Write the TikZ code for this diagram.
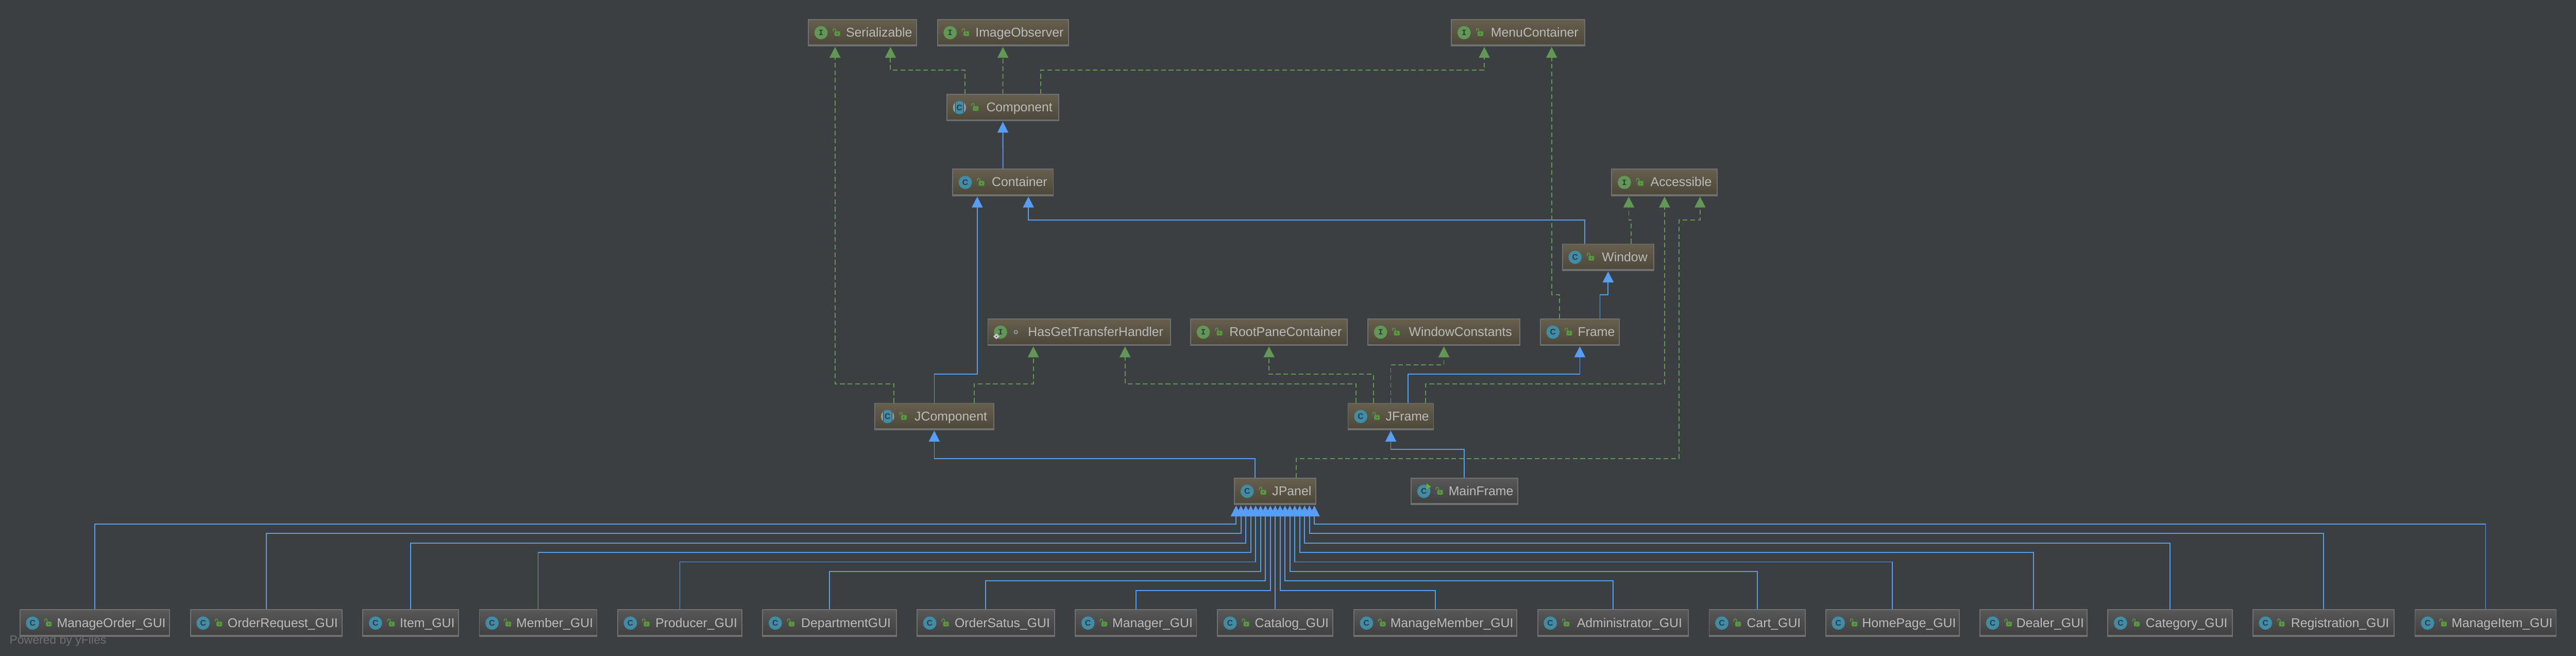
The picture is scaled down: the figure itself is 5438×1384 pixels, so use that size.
\documentclass[tikz,border=0pt]{standalone}
\usepackage{fontspec}
\setmainfont{Liberation Sans}
\setmonofont{Liberation Mono}
\usetikzlibrary{arrows.meta}

\definecolor{bgdark}{HTML}{3C3F41}
\definecolor{boxline}{HTML}{707070}
\definecolor{jdktop}{HTML}{675F4E}
\definecolor{jdkbot}{HTML}{4B4739}
\definecolor{projtop}{HTML}{585858}
\definecolor{projbot}{HTML}{403F3F}
\definecolor{boxtext}{HTML}{BBBBBB}
\definecolor{extendblue}{HTML}{589DF6}
\definecolor{implgreen}{HTML}{629755}
\definecolor{iconblue}{HTML}{418CA6}
\definecolor{iconside}{HTML}{8F9A9F}
\definecolor{iconlock}{HTML}{599741}
\definecolor{iconpale}{HTML}{C4CBCF}
\definecolor{runmark}{HTML}{5DB52F}
\definecolor{glyphdark}{HTML}{2B3B45}

\tikzset{
  classbox/.style={draw=boxline,line width=2pt,minimum height=56pt,inner sep=0pt,
    text=boxtext,text height=20pt,text depth=2.6pt,font=\fontsize{27}{30}\selectfont,
    execute at begin node={\hspace*{70pt}}},
  jdkbox/.style={classbox,top color=jdktop,bottom color=jdkbot},
  projbox/.style={classbox,top color=projtop,bottom color=projbot},
  cglyph/.style={circle,fill=iconblue,minimum size=28pt,inner sep=0pt,text=glyphdark,
    font=\bfseries\fontsize{17}{17}\selectfont},
  iglyph/.style={circle,fill=implgreen,minimum size=28pt,inner sep=0pt,text=glyphdark,
    font=\ttfamily\bfseries\fontsize{17}{17}\selectfont},
  extends/.style={draw=extendblue,line width=2pt,shorten >=1pt,
    -{Triangle[length=23pt,width=23pt]}},
  realizes/.style={draw=implgreen,line width=2pt,dash pattern=on 10pt off 6pt,shorten >=1pt,
    -{Triangle[length=23pt,width=23pt]}},
}

\newcommand\boxbase[1]{\fill[boxline] (#1.south west) rectangle ([yshift=4pt]#1.south east);}
\newcommand\lockat[1]{\begin{scope}[shift={(#1.west)},y=1pt]
    \fill[iconlock,rounded corners=1.5pt] (56,-7) rectangle (68,3);
    \fill[jdkbot] (61,-3) rectangle (63,-1);
    \draw[iconlock,line width=1.7pt] (53.3,3) -- (53.3,6) arc (180:0:2.7) -- (58.7,3);
  \end{scope}}
\newcommand\classicon[1]{\boxbase{#1}\node[cglyph] (#1icon) at ([xshift=27.7pt]#1.west) {C};\lockat{#1}}
\newcommand\ifaceicon[1]{\boxbase{#1}\node[iglyph] (#1icon) at ([xshift=27.7pt]#1.west) {I};\lockat{#1}}
\newcommand\abstracticon[1]{\boxbase{#1}\begin{scope}[shift={([xshift=27.7pt]#1.west)},y=1pt]
    \fill[iconside] (0,0) circle (14);
    \begin{scope}
      \clip (0,0) circle (14);
      \fill[glyphdark] (-9.5,-14) rectangle (9.5,14);
      \fill[iconblue] (-8.5,-14) rectangle (8.5,14);
    \end{scope}
  \end{scope}
  \node[cglyph,fill=none] (#1icon) at ([xshift=27.7pt]#1.west) {C};\lockat{#1}}

\begin{document}
\begin{tikzpicture}[x=1pt,y=-1pt]
  \fill[bgdark] (0,0) rectangle (5438,1384);
  \useasboundingbox (0,0) rectangle (5438,1384);

  \node[jdkbox,minimum width=228.5pt] (serializable) at (1820.75,69) {Serializable}; \ifaceicon{serializable}
  \node[jdkbox,minimum width=276.5pt] (imageobserver) at (2117.25,69) {ImageObserver}; \ifaceicon{imageobserver}
  \node[jdkbox,minimum width=281.4pt] (menucontainer) at (3204.7,69) {MenuContainer}; \ifaceicon{menucontainer}
  \node[jdkbox,minimum width=236.4pt] (component) at (2117,227) {Component}; \abstracticon{component}
  \node[jdkbox,minimum width=212.6pt] (container) at (2117.3,385) {Container}; \classicon{container}
  \node[jdkbox,minimum width=223pt] (accessible) at (3513.85,385) {Accessible}; \ifaceicon{accessible}
  \node[jdkbox,minimum width=193pt] (window) at (3394.8,543) {Window}; \classicon{window}
  \node[jdkbox,minimum width=385.2pt] (hasgethandler) at (2278,701) {HasGetTransferHandler};
  \node[jdkbox,minimum width=331pt] (rootpane) at (2678.85,701) {RootPaneContainer}; \ifaceicon{rootpane}
  \node[jdkbox,minimum width=320.6pt] (windowconst) at (3048,701) {WindowConstants}; \ifaceicon{windowconst}
  \node[jdkbox,minimum width=166.8pt] (frame) at (3335,701) {Frame}; \classicon{frame}
  \node[jdkbox,minimum width=250.5pt] (jcomponent) at (1972.25,879) {JComponent}; \abstracticon{jcomponent}
  \node[jdkbox,minimum width=180.5pt] (jframe) at (2936,879) {JFrame}; \classicon{jframe}
  \node[jdkbox,minimum width=172pt] (jpanel) at (2692,1037) {JPanel}; \classicon{jpanel}
  \node[projbox,minimum width=224.7pt] (mainframe) at (3091.35,1037) {MainFrame}; \classicon{mainframe}

  % marks that only these two have
  \boxbase{hasgethandler}
  \node[iglyph] (hasgeticon) at ([xshift=27.7pt]hasgethandler.west) {I};
  \begin{scope}[shift={(hasgethandler.west)},y=1pt]
    \draw[iconside,line width=2pt] (60,0) circle (3.5);
    \fill[iconpale] (19,-3) -- (25.5,-9) -- (19,-15) -- (12.5,-9) -- cycle;
    \fill[jdkbot] (19,-7.5) -- (20.5,-9) -- (19,-10.5) -- (17.5,-9) -- cycle;
  \end{scope}
  \begin{scope}[shift={(mainframe.west)},y=1pt]
    \fill[runmark] (33,17) -- (43,10) -- (33,3) -- cycle;
  \end{scope}

  \node[projbox,minimum width=316pt] (manageorder) at (200,1315) {ManageOrder\_GUI}; \classicon{manageorder}
  \node[projbox,minimum width=320pt] (orderrequest) at (562,1315) {OrderRequest\_GUI}; \classicon{orderrequest}
  \node[projbox,minimum width=202pt] (item) at (867,1315) {Item\_GUI}; \classicon{item}
  \node[projbox,minimum width=248pt] (member) at (1136,1315) {Member\_GUI}; \classicon{member}
  \node[projbox,minimum width=262pt] (producer) at (1435,1315) {Producer\_GUI}; \classicon{producer}
  \node[projbox,minimum width=282pt] (department) at (1751,1315) {DepartmentGUI}; \classicon{department}
  \node[projbox,minimum width=290pt] (ordersatus) at (2081,1315) {OrderSatus\_GUI}; \classicon{ordersatus}
  \node[projbox,minimum width=256pt] (manager) at (2398,1315) {Manager\_GUI}; \classicon{manager}
  \node[projbox,minimum width=244pt] (catalog) at (2692,1315) {Catalog\_GUI}; \classicon{catalog}
  \node[projbox,minimum width=344pt] (managemember) at (3030,1315) {ManageMember\_GUI}; \classicon{managemember}
  \node[projbox,minimum width=318pt] (administrator) at (3405,1315) {Administrator\_GUI}; \classicon{administrator}
  \node[projbox,minimum width=203pt] (cart) at (3709.5,1315) {Cart\_GUI}; \classicon{cart}
  \node[projbox,minimum width=282pt] (homepage) at (3995,1315) {HomePage\_GUI}; \classicon{homepage}
  \node[projbox,minimum width=226.5pt] (dealer) at (4293,1315) {Dealer\_GUI}; \classicon{dealer}
  \node[projbox,minimum width=262.5pt] (category) at (4581,1315) {Category\_GUI}; \classicon{category}
  \node[projbox,minimum width=298.5pt] (registration) at (4905,1315) {Registration\_GUI}; \classicon{registration}
  \node[projbox,minimum width=298pt] (manageitem) at (5247,1315) {ManageItem\_GUI}; \classicon{manageitem}

  \node[anchor=base west,inner sep=0pt,text=boxline,font=\fontsize{25}{28}\selectfont] (poweredby) at (20,1359) {Powered by yFiles};

  % upper part
  \draw[realizes] ([xshift=-80pt]component.north) -- ++(0,-50) -| ([xshift=59pt]serializable.south);
  \draw[realizes] (component.north) -- (imageobserver.south);
  \draw[realizes] ([xshift=80pt]component.north) -- ++(0,-50) -| ([xshift=-71.3pt]menucontainer.south);
  \draw[extends] (container.north) -- (component.south);
  \draw[extends] ([xshift=-49.5pt]window.north) -- ++(0,-50) -| ([xshift=53.7pt]container.south);
  \draw[realizes] ([xshift=48.5pt]window.north) -- ++(0,-50) -| ([xshift=-75.5pt]accessible.south);
  \draw[extends] ([xshift=42.5pt]frame.north) -- ++(0,-50) -| (window.south);
  \draw[realizes] ([xshift=-42.5pt]frame.north) -- ++(0,-50) -| ([xshift=70.8pt]menucontainer.south);

  \draw[realizes] ([xshift=-85pt]jcomponent.north) -- ++(0,-40) -| ([xshift=-58pt]serializable.south);
  \draw[extends] (jcomponent.north) -- ++(0,-60) -| ([xshift=-54.3pt]container.south);
  \draw[realizes] ([xshift=84pt]jcomponent.north) -- ++(0,-40) -| ([xshift=-96.6pt]hasgethandler.south);

  \draw[realizes] ([xshift=-73.5pt]jframe.north) -- ++(0,-40) -| ([xshift=97pt]hasgethandler.south);
  \draw[realizes] ([xshift=-36.7pt]jframe.north) -- ++(0,-60) -| (rootpane.south);
  \draw[realizes] (jframe.north) -- ++(0,-80) -| (windowconst.south);
  \draw[extends] ([xshift=36.2pt]jframe.north) -- ++(0,-60) -| (frame.south);
  \draw[realizes] ([xshift=73.5pt]jframe.north) -- ++(0,-40) -| (accessible.south);

  \draw[extends] (mainframe.north) -- ++(0,-60) -| (jframe.south);
  \draw[extends] ([xshift=-43pt]jpanel.north) -- ++(0,-40) -| (jcomponent.south);
  \coordinate (accessiblebend) at (3544.5,464.3);
  \draw[realizes] ([xshift=44pt]jpanel.north) -- ++(0,-40) -| (accessiblebend) -| ([xshift=75pt]accessible.south);

  % everything under JPanel
  \draw[extends] (manageorder.north) -- ++(0,-180) -| ([xshift=-82.6pt]jpanel.south);
  \draw[extends] (orderrequest.north) -- ++(0,-160) -| ([xshift=-72.3pt]jpanel.south);
  \draw[extends] (item.north) -- ++(0,-140) -| ([xshift=-62pt]jpanel.south);
  \draw[extends] (member.north) -- ++(0,-120) -| ([xshift=-51.7pt]jpanel.south);
  \draw[extends] (producer.north) -- ++(0,-100) -| ([xshift=-41.3pt]jpanel.south);
  \draw[extends] (department.north) -- ++(0,-80) -| ([xshift=-31pt]jpanel.south);
  \draw[extends] (ordersatus.north) -- ++(0,-60) -| ([xshift=-20.7pt]jpanel.south);
  \draw[extends] (manager.north) -- ++(0,-40) -| ([xshift=-10.3pt]jpanel.south);
  \draw[extends] (catalog.north) -- (jpanel.south);
  \draw[extends] (managemember.north) -- ++(0,-40) -| ([xshift=10.3pt]jpanel.south);
  \draw[extends] (administrator.north) -- ++(0,-60) -| ([xshift=20.7pt]jpanel.south);
  \draw[extends] (cart.north) -- ++(0,-80) -| ([xshift=31pt]jpanel.south);
  \draw[extends] (homepage.north) -- ++(0,-100) -| ([xshift=41.3pt]jpanel.south);
  \draw[extends] (dealer.north) -- ++(0,-120) -| ([xshift=51.7pt]jpanel.south);
  \draw[extends] (category.north) -- ++(0,-140) -| ([xshift=62pt]jpanel.south);
  \draw[extends] (registration.north) -- ++(0,-160) -| ([xshift=72.3pt]jpanel.south);
  \draw[extends] (manageitem.north) -- ++(0,-180) -| ([xshift=82.6pt]jpanel.south);
\end{tikzpicture}
\end{document}
